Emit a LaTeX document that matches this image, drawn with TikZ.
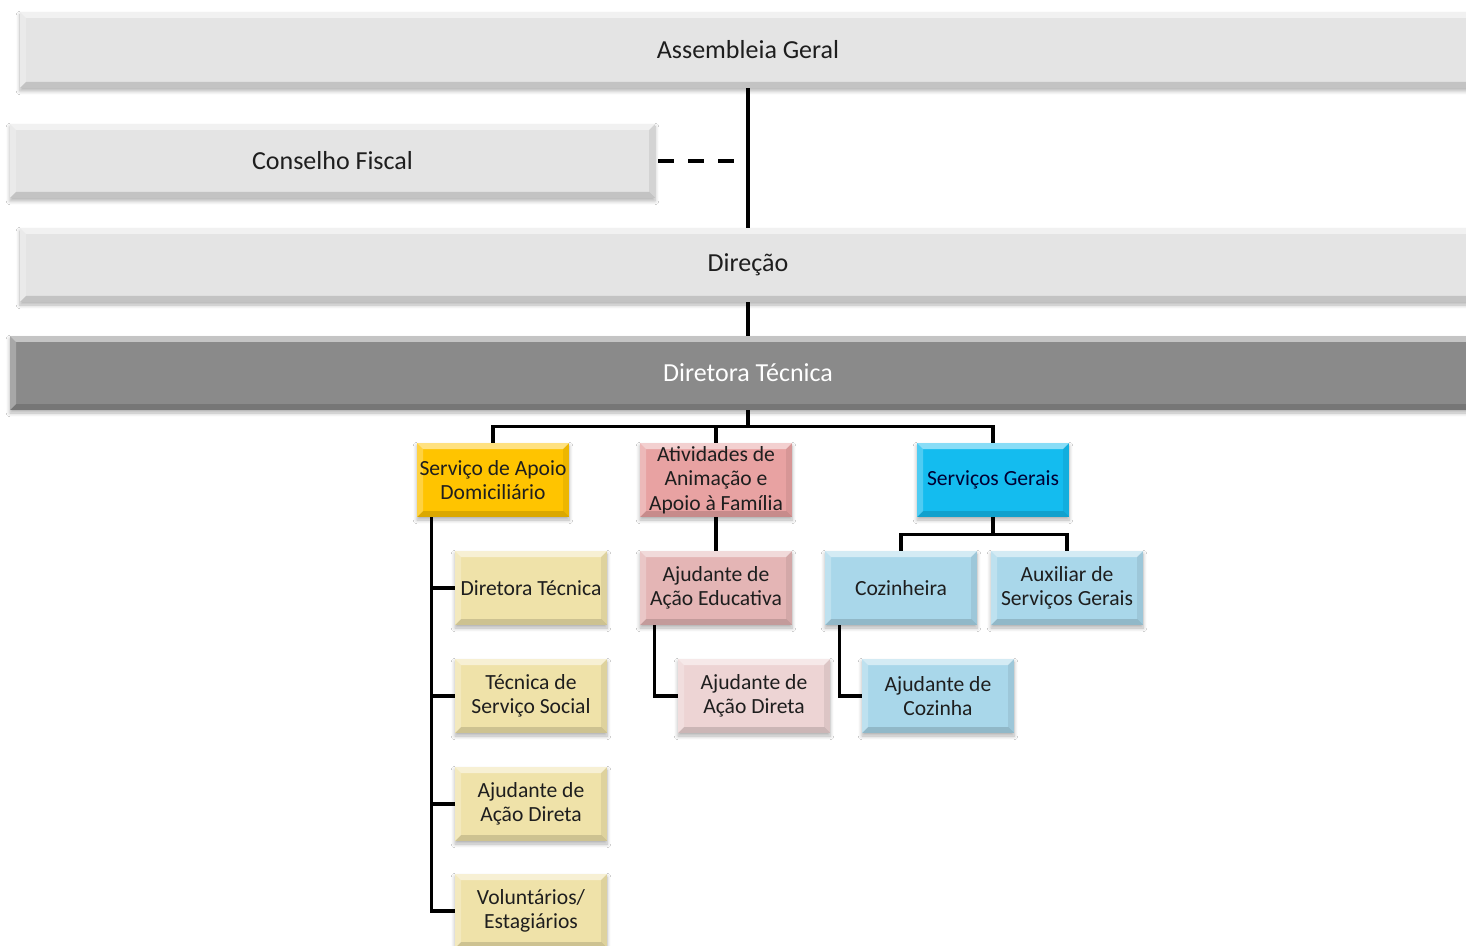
\documentclass[tikz,border=0pt]{standalone}
\usepackage{fontspec}
\setmainfont{Carlito}
\usetikzlibrary{shadows.blur,calc}
\definecolor{bargray}{HTML}{E4E4E4}
\definecolor{darkbar}{HTML}{8A8A8A}
\definecolor{gold}{HTML}{FFC400}
\definecolor{salmon}{HTML}{E8A2A2}
\definecolor{rosemid}{HTML}{E4B5B5}
\definecolor{roselight}{HTML}{EDD4D4}
\definecolor{cyanbox}{HTML}{14BCEF}
\definecolor{skyblue}{HTML}{A9D7EA}
\definecolor{khaki}{HTML}{EFE2A9}
\definecolor{inktext}{HTML}{1E1E1E}
\tikzset{
  bevel/.style={path picture={
    \fill[white,opacity=.5] (path picture bounding box.north west) -- (path picture bounding box.north east)
      -- ([shift={(-3pt,-3pt)}]path picture bounding box.north east) -- ([shift={(3pt,-3pt)}]path picture bounding box.north west) -- cycle;
    \fill[black,opacity=.14] (path picture bounding box.south west) -- (path picture bounding box.south east)
      -- ([shift={(-3pt,3pt)}]path picture bounding box.south east) -- ([shift={(3pt,3pt)}]path picture bounding box.south west) -- cycle;
    \fill[white,opacity=.25] (path picture bounding box.north west) -- (path picture bounding box.south west)
      -- ([shift={(3pt,3pt)}]path picture bounding box.south west) -- ([shift={(3pt,-3pt)}]path picture bounding box.north west) -- cycle;
    \fill[black,opacity=.07] (path picture bounding box.north east) -- (path picture bounding box.south east)
      -- ([shift={(-3pt,3pt)}]path picture bounding box.south east) -- ([shift={(-3pt,-3pt)}]path picture bounding box.north east) -- cycle;
  }},
  box/.style={rectangle, bevel, blur shadow={shadow xshift=0pt, shadow yshift=-1.5pt, shadow blur steps=6, shadow opacity=30},
    align=center, inner sep=0pt, minimum width=76pt, minimum height=37pt,
    font=\fontsize{10.8}{12.2}\selectfont, text=inktext},
  bar/.style={box, font=\fontsize{13}{15}\selectfont},
  conn/.style={line width=1.8pt, black},
}
\begin{document}
\begin{tikzpicture}[x=0.5pt,y=-0.5pt]
\useasboundingbox (0,0) rectangle (1466,946);
\fill[white] (0,0) rectangle (1466,946);

% governing bodies
\node[bar, fill=bargray, minimum width=728pt, minimum height=38pt] (ag) at (748,50) {Assembleia Geral};
\node[bar, fill=bargray, minimum width=322.5pt] (cf) at (332.5,161) {Conselho Fiscal};
\node[bar, fill=bargray, minimum width=728pt] (dir) at (748,265) {Direção};
\node[bar, fill=darkbar, text=white, minimum width=738pt] (dt) at (748,373) {Diretora Técnica};

% services
\node[box, fill=gold] (sad) at (493,480) {Serviço de Apoio\\Domiciliário};
\node[box, fill=salmon] (aaf) at (716,480) {Atividades de\\Animação e\\Apoio à Família};
\node[box, fill=cyanbox, text=black!80!blue] (sg) at (993,480) {Serviços Gerais};

% home support staff
\node[box, fill=khaki] (b1) at (531,588) {Diretora Técnica};
\node[box, fill=khaki] (b2) at (531,696) {Técnica de\\Serviço Social};
\node[box, fill=khaki] (b3) at (531,804) {Ajudante de\\Ação Direta};
\node[box, fill=khaki] (b4) at (531,911) {Voluntários/\\Estagiários};

% family activities staff
\node[box, fill=rosemid] (educ) at (716,588) {Ajudante de\\Ação Educativa};
\node[box, fill=roselight] (direta) at (754,696) {Ajudante de\\Ação Direta};

% general services staff
\node[box, fill=skyblue] (coz) at (901,588) {Cozinheira};
\node[box, fill=skyblue] (aux) at (1067,588) {Auxiliar de\\Serviços Gerais};
\node[box, fill=skyblue] (ajcoz) at (938,696) {Ajudante de\\Cozinha};

% connectors
\draw[conn] (ag.south) -- (dir.north);
\coordinate (cfj) at (cf.east -| ag.south);
\draw[conn, dash pattern=on 8pt off 7pt] ($(cf.east)+(3,0)$) -- ($(cfj)+(-8,0)$);
\draw[conn] (dir.south) -- (dt.north);
\coordinate (bus) at ($(dt.south)+(0,16)$);
\draw[conn] (dt.south) -- (bus);
\draw[conn] (bus) -| (sad.north);
\draw[conn] (bus) -| (sg.north);
\draw[conn] (aaf.north) |- (bus);

\coordinate (sadspine) at ($(sad.south west)+(15,0)$);
\foreach \b in {b1,b2,b3,b4} \draw[conn] (sadspine) |- (\b.west);

\draw[conn] (aaf.south) -- (educ.north);
\coordinate (educspine) at ($(educ.south west)+(15,0)$);
\draw[conn] (educspine) |- (direta.west);

\coordinate (sgbus) at ($(sg.south)+(0,17)$);
\draw[conn] (sg.south) -- (sgbus) -| (coz.north);
\draw[conn] (sgbus) -| (aux.north);
\coordinate (cozspine) at ($(coz.south west)+(15,0)$);
\draw[conn] (cozspine) |- (ajcoz.west);
\end{tikzpicture}
\end{document}
